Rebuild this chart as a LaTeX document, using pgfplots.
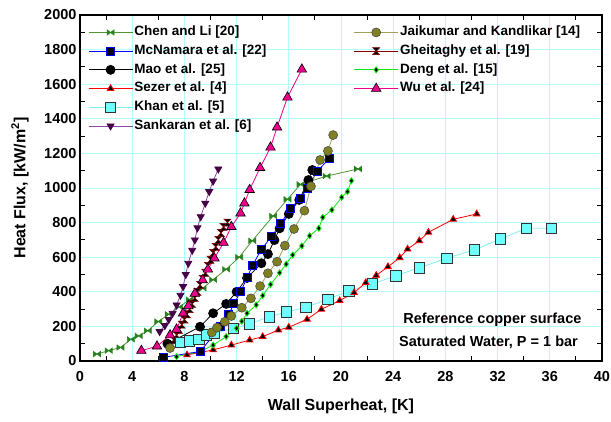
\documentclass[border=0pt]{standalone}
\usepackage{fontspec}
\setmainfont{Liberation Sans}
\usepackage{pgfplots}
\pgfplotsset{compat=1.18}

\definecolor{chenline}{RGB}{80,150,50}
\definecolor{chenmark}{RGB}{40,130,30}
\definecolor{khancyan}{RGB}{110,255,255}
\definecolor{khanline}{RGB}{130,240,240}
\definecolor{sankline}{RGB}{140,70,170}
\definecolor{sankmark}{RGB}{70,0,70}
\definecolor{jaiolive}{RGB}{128,128,32}
\definecolor{jailine}{RGB}{160,160,90}
\definecolor{gheired}{RGB}{130,0,0}
\definecolor{denggreen}{RGB}{20,230,20}
\definecolor{gridcyan}{RGB}{175,255,255}

\pgfdeclareplotmark{bowtie}{%
  \pgfpathmoveto{\pgfqpoint{-\pgfplotmarksize}{0.75\pgfplotmarksize}}%
  \pgfpathlineto{\pgfqpoint{\pgfplotmarksize}{-0.75\pgfplotmarksize}}%
  \pgfpathlineto{\pgfqpoint{\pgfplotmarksize}{0.75\pgfplotmarksize}}%
  \pgfpathlineto{\pgfqpoint{-\pgfplotmarksize}{-0.75\pgfplotmarksize}}%
  \pgfpathclose
  \pgfusepathqfillstroke}
\pgfdeclareplotmark{hourglass}{%
  \pgfpathmoveto{\pgfqpoint{-\pgfplotmarksize}{\pgfplotmarksize}}%
  \pgfpathlineto{\pgfqpoint{\pgfplotmarksize}{\pgfplotmarksize}}%
  \pgfpathlineto{\pgfqpoint{-\pgfplotmarksize}{-\pgfplotmarksize}}%
  \pgfpathlineto{\pgfqpoint{\pgfplotmarksize}{-\pgfplotmarksize}}%
  \pgfpathclose
  \pgfusepathqfillstroke}

\pgfplotsset{
  sChen/.style={color=chenline, line width=0.8pt, mark=bowtie, mark size=3.5pt, mark options={draw=chenmark, fill=chenmark, line width=0.6pt, solid}},
  sMcN/.style={color=blue, line width=0.8pt, mark=square*, mark size=4pt, mark options={draw=blue, fill=black, line width=1pt}},
  sMao/.style={color=black, line width=0.8pt, mark=*, mark size=4.5pt, mark options={draw=black, fill=black}},
  sSez/.style={color=red, line width=0.8pt, mark=triangle*, mark size=3.8pt, mark options={draw=red, fill=black, line width=0.8pt}},
  sKhan/.style={color=khanline, line width=0.8pt, mark=square*, mark size=5.2pt, mark options={draw=black!80, fill=khancyan, line width=0.8pt}},
  sSank/.style={color=sankline, line width=0.8pt, mark=triangle*, mark size=4pt, mark options={rotate=180, draw=sankmark, fill=sankmark}},
  sJai/.style={color=jailine, line width=0.8pt, mark=*, mark size=4.5pt, mark options={draw=black!70, fill=jaiolive, line width=0.6pt}},
  sGhei/.style={color=gheired, line width=0.8pt, mark=hourglass, mark size=3.5pt, mark options={draw=gheired, fill=black, line width=0.6pt}},
  sDeng/.style={color=denggreen, line width=0.8pt, mark=diamond*, mark size=3pt, mark options={draw=denggreen, fill=black, line width=0.8pt}},
  sWu/.style={color=magenta, line width=0.8pt, mark=triangle*, mark size=5.5pt, mark options={draw=black, fill=magenta, line width=0.6pt}},
}

\begin{document}
\begin{tikzpicture}
\useasboundingbox (-80pt,-60pt) rectangle (531pt,361pt);
\begin{axis}[
  scale only axis, width=522pt, height=346pt,
  at={(0pt,0pt)}, anchor=south west,
  xmin=0, xmax=40, ymin=0, ymax=2000,
  xtick={0,4,...,40}, ytick={0,200,...,2000},
  minor x tick num=1, minor y tick num=1,
  major tick length=0pt, minor tick length=5pt,
  tick style={black, line width=1pt},
  tick align=inside,
  grid=major, major grid style={gridcyan, line width=0.8pt},
  axis line style={line width=1.8pt},
  ticklabel style={font=\bfseries\fontsize{14.5}{16}\selectfont},
  xticklabel style={yshift=-7pt},
  /pgf/number format/assume math mode=true,
  /pgf/number format/1000 sep={},
  xlabel={Wall Superheat, [K]},
  ylabel={Heat Flux, [kW/m\textsuperscript{2}]},
  label style={font=\bfseries\fontsize{16}{18}\selectfont},
  xlabel style={at={(axis description cs:0.5,-0.13)}, anchor=center},
  ylabel style={at={(axis description cs:-0.115,0.5)}, anchor=center},
  legend columns=2,
  legend cell align=left,
  legend image code/.code={\draw[mark repeat=2,mark phase=2,#1] plot coordinates {(0pt,0pt) (22pt,0pt) (44pt,0pt)};},
  legend style={draw=none, fill=none, inner sep=0pt,
    at={(axis description cs:0.0153,0.974)}, anchor=north west,
    font=\bfseries\fontsize{13.5}{15}\selectfont,
    nodes={inner sep=1.5pt, text height=10pt, text depth=3.5pt},
    row sep=2.2pt,
    /tikz/column 2/.style={column sep=86pt}},
]
% Chen and Li [20]
\addplot[sChen, forget plot] coordinates {(1.3,40) (2.2,60) (3.1,78) (3.9,125) (4.5,145) (5.2,175) (6.0,228) (6.8,270) (7.6,312) (8.4,355) (9.4,420) (10.2,470) (11.2,530) (12.2,600) (13.2,695) (14.8,838) (15.9,935) (16.9,1021) (18.9,1069) (21.3,1110)};
% Sankaran et al. [6]
\addplot[sSank, forget plot] coordinates {(6.1,170) (6.5,205) (6.8,240) (7.1,276) (7.4,324) (7.7,380) (7.9,430) (8.1,500) (8.3,565) (8.6,640) (8.8,700) (9.0,770) (9.25,834) (9.6,912) (9.9,979) (10.2,1040) (10.6,1110)};
% Gheitaghy et al. [19]
\addplot[sGhei, forget plot] coordinates {(7.2,120) (7.4,150) (7.6,180) (7.8,210) (8.0,240) (8.2,270) (8.4,300) (8.6,330) (8.8,365) (9.0,400) (9.2,440) (9.4,475) (9.6,510) (9.8,550) (10.0,585) (10.2,625) (10.4,660) (10.6,700) (10.8,740) (11.0,775) (11.3,800)};
% Wu et al. [24]
\addplot[sWu, forget plot] coordinates {(4.7,60) (5.9,85) (6.9,150) (7.4,183) (7.9,276) (8.3,318) (8.8,390) (9.4,468) (9.8,530) (10.3,594) (11.0,684) (11.6,776) (12.3,854) (12.6,912) (13.0,990) (13.8,1117) (14.6,1235) (15.1,1351) (15.9,1524) (17.0,1686)};
% Khan et al. [5]
\addplot[sKhan, forget plot] coordinates {(7.7,106) (8.4,116) (9.1,125) (9.7,150) (10.3,160) (11.75,189) (13.0,214) (14.5,256) (15.8,283) (17.3,310) (19.0,357) (20.6,405) (22.4,445) (24.2,493) (26.0,539) (28.1,594) (30.2,642) (32.2,705) (34.2,767) (36.1,767)};
% Sezer et al. [4]
\addplot[sSez, forget plot] coordinates {(8.2,35) (10.2,64) (11.6,92) (13.0,121) (14.0,141) (15.2,179) (16.0,195) (17.4,241) (18.5,299) (19.9,349) (21.0,395) (21.9,453) (22.7,495) (23.6,545) (24.5,597) (25.1,647) (26.0,695) (26.7,744) (28.6,819) (30.4,850)};
% Deng et al. [15]
\addplot[sDeng, forget plot] coordinates {(7.4,25) (9.2,55) (10.2,92) (11.2,141) (12.0,189) (12.4,230) (12.8,276) (13.5,324) (14.0,378) (14.6,442) (15.3,510) (15.8,560) (16.3,613) (17.0,665) (17.6,724) (18.3,767) (18.6,830) (19.3,873) (20.05,946) (20.5,979) (20.8,1042)};
% Mao et al. [25]
\addplot[sMao, forget plot] coordinates {(6.7,100) (9.2,198) (10.2,276) (11.2,330) (12.0,400) (12.8,480) (13.9,565) (14.4,618) (14.9,699) (15.3,767) (16.0,850) (16.8,931) (17.5,1046) (17.8,1104)};
% McNamara et al. [22]
\addplot[sMcN, forget plot] coordinates {(6.4,21) (9.2,55) (10.8,200) (11.4,270) (11.8,330) (12.3,400) (12.8,480) (13.2,550) (13.9,645) (14.7,722) (15.4,796) (16.1,879) (16.9,940) (17.4,998) (18.2,1098) (19.1,1171)};
% Jaikumar and Kandlikar [14]
\addplot[sJai, forget plot] coordinates {(6.9,75) (10.1,165) (10.5,193) (11.1,227) (11.6,260) (12.4,308) (13.1,362) (13.8,433) (14.4,507) (15.1,574) (15.7,667) (16.4,763) (17.2,869) (17.7,1010) (18.4,1162) (19.0,1214) (19.4,1306)};

\addlegendimage{sChen}\addlegendentry{Chen and Li [20]}
\addlegendimage{sJai}\addlegendentry{Jaikumar and Kandlikar [14]}
\addlegendimage{sMcN}\addlegendentry{McNamara et al. [22]}
\addlegendimage{sGhei}\addlegendentry{Gheitaghy et al. [19]}
\addlegendimage{sMao}\addlegendentry{Mao et al. [25]}
\addlegendimage{sDeng}\addlegendentry{Deng et al. [15]}
\addlegendimage{sSez}\addlegendentry{Sezer et al. [4]}
\addlegendimage{sWu}\addlegendentry{Wu et al. [24]}
\addlegendimage{sKhan}\addlegendentry{Khan et al. [5]}
\addlegendimage{empty legend}\addlegendentry{}
\addlegendimage{sSank}\addlegendentry{Sankaran et al. [6]}

\node[font=\bfseries\fontsize{14.5}{16}\selectfont] at (axis cs:31.6,237) {Reference copper surface};
\node[font=\bfseries\fontsize{14.5}{16}\selectfont] at (axis cs:31.3,106) {Saturated Water, P = 1 bar};
\end{axis}
\end{tikzpicture}
\end{document}
